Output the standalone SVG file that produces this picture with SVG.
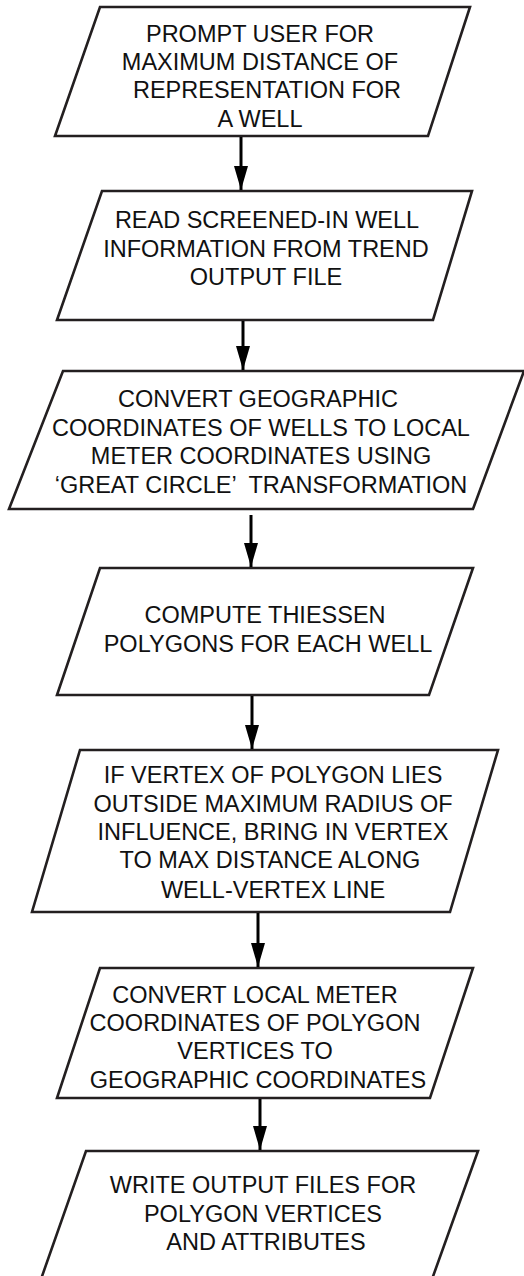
<svg xmlns="http://www.w3.org/2000/svg" width="524" height="1276" viewBox="0 0 524 1276">
<defs>
<style>
.box{fill:#fff;stroke:#231f20;stroke-width:2.6;stroke-linejoin:miter}
.t{font-family:"Liberation Sans",Arial,sans-serif;font-size:23.5px;fill:#111;text-anchor:middle}
.c{stroke:#000;stroke-width:3;fill:none}
</style>
<marker id="ah" viewBox="0 0 24 14" refX="24" refY="7" markerWidth="24" markerHeight="14" markerUnits="userSpaceOnUse" orient="auto">
<path d="M0,0 L24,7 L0,14 z" fill="#000"/>
</marker>
</defs>
<rect width="524" height="1276" fill="#fff"/>
<g id="n1">
<polygon class="box" points="100,7 470,7 428,136 55,136"/>
<text class="t"><tspan x="260" y="42">PROMPT USER FOR</tspan><tspan x="260" y="70">MAXIMUM DISTANCE OF</tspan><tspan x="267" y="98">REPRESENTATION FOR</tspan><tspan x="260" y="127">A WELL</tspan></text>
</g>
<g id="n2">
<polygon class="box" points="102,191 472,191 433,320 57,320"/>
<text class="t"><tspan x="267" y="228">READ SCREENED-IN WELL</tspan><tspan x="266" y="257">INFORMATION FROM TREND</tspan><tspan x="266" y="285">OUTPUT FILE</tspan></text>
</g>
<g id="n3">
<polygon class="box" points="63,371 524,371 473,509 9,509"/>
<text class="t"><tspan x="258" y="407">CONVERT GEOGRAPHIC</tspan><tspan x="261" y="436">COORDINATES OF WELLS TO LOCAL</tspan><tspan x="261" y="464">METER COORDINATES USING</tspan><tspan x="261" y="493" xml:space="preserve">‘GREAT CIRCLE’  TRANSFORMATION</tspan></text>
</g>
<g id="n4">
<polygon class="box" points="100,568 473,568 429,695 57,695"/>
<text class="t"><tspan x="265" y="623">COMPUTE THIESSEN</tspan><tspan x="268" y="652">POLYGONS FOR EACH WELL</tspan></text>
</g>
<g id="n5">
<polygon class="box" points="80,750 498,750 450,912 32,912"/>
<text class="t"><tspan x="273" y="783">IF VERTEX OF POLYGON LIES</tspan><tspan x="273" y="812">OUTSIDE MAXIMUM RADIUS OF</tspan><tspan x="273" y="840">INFLUENCE, BRING IN VERTEX</tspan><tspan x="270" y="868">TO MAX DISTANCE ALONG</tspan><tspan x="273" y="898">WELL-VERTEX LINE</tspan></text>
</g>
<g id="n6">
<polygon class="box" points="100,968 473,968 430,1098 57,1098"/>
<text class="t"><tspan x="255" y="1003">CONVERT LOCAL METER</tspan><tspan x="255" y="1031">COORDINATES OF POLYGON</tspan><tspan x="255" y="1059">VERTICES TO</tspan><tspan x="258" y="1088">GEOGRAPHIC COORDINATES</tspan></text>
</g>
<g id="n7">
<polygon class="box" points="86,1151 478,1151 431,1282 40,1282"/>
<text class="t"><tspan x="263" y="1193">WRITE OUTPUT FILES FOR</tspan><tspan x="263" y="1222">POLYGON VERTICES</tspan><tspan x="266" y="1250">AND ATTRIBUTES</tspan></text>
</g>
<g id="connectors">
<line class="c" x1="241" y1="137" x2="241" y2="190" marker-end="url(#ah)"/>
<line class="c" x1="243" y1="321" x2="243" y2="370" marker-end="url(#ah)"/>
<line class="c" x1="251" y1="515" x2="251" y2="567" marker-end="url(#ah)"/>
<line class="c" x1="252" y1="696" x2="252" y2="749" marker-end="url(#ah)"/>
<line class="c" x1="258" y1="913" x2="258" y2="967" marker-end="url(#ah)"/>
<line class="c" x1="260" y1="1099" x2="260" y2="1150" marker-end="url(#ah)"/>
</g>
</svg>
